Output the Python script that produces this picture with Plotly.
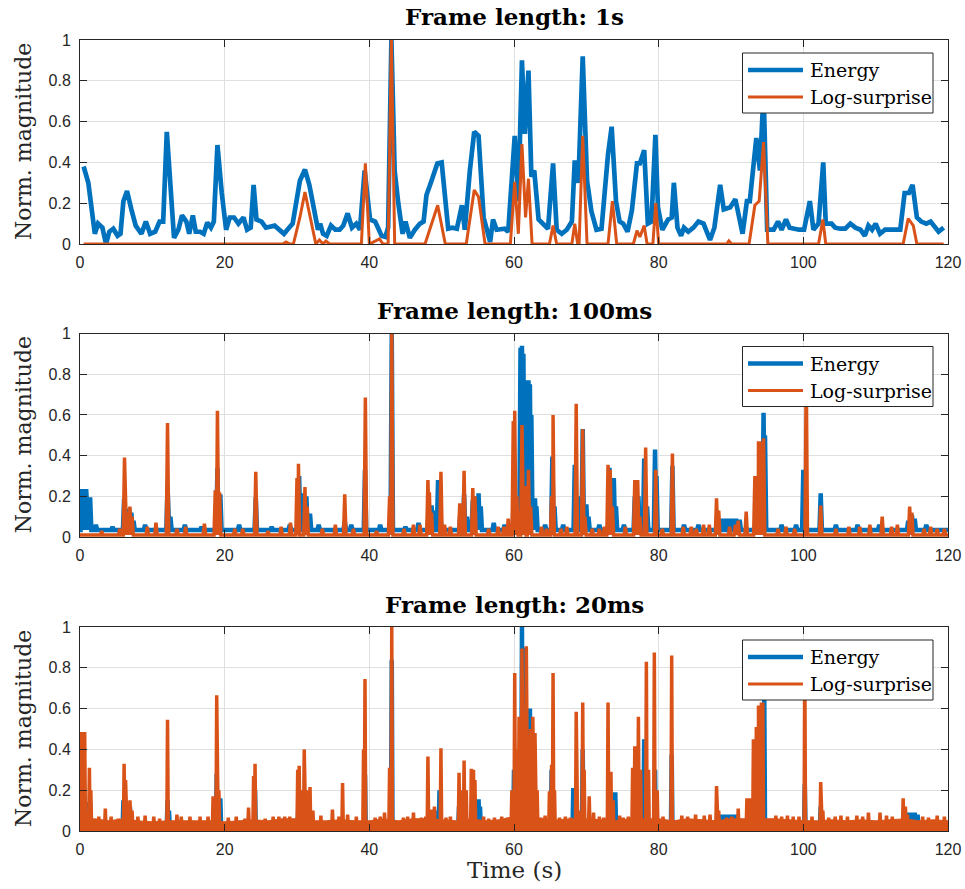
import plotly.graph_objects as go

# ---------------- data ----------------
# Frame length 1 s : energy envelope (time s, normalised value)
e1_t = [0.5, 1.15, 2.05, 2.5, 3.1, 3.6, 4.05, 4.6, 5.2, 5.6, 6.0, 6.5, 7.1, 7.7, 8.5, 9.1, 9.7, 10.4,
        11.0, 11.5, 12.0, 12.4, 13.0, 13.6, 14.1, 14.7, 15.1, 15.6, 16.0, 16.6, 17.1, 17.6, 18.1, 18.5,
        19.0, 19.6, 20.2, 20.7, 21.3, 21.9, 22.6, 23.1, 23.6, 24.0, 24.4, 25.1, 25.7, 26.9, 27.6, 28.2,
        28.9, 29.4, 30.4, 31.1, 31.7, 32.3, 32.9, 33.2, 33.6, 34.1, 34.7, 35.3, 35.9, 36.4, 37.0, 37.6,
        38.2, 38.7, 39.35, 40.1, 40.8, 41.2, 41.7, 42.2, 42.6, 43.05, 43.5, 44.0, 44.6, 45.0, 45.6, 46.3,
        47.0, 47.5, 47.9, 48.6, 49.4, 50.0, 50.5, 50.9, 51.5, 52.1, 52.8, 53.2, 53.9, 54.5, 55.1, 55.8,
        56.7, 57.1, 57.6, 58.3, 58.7, 59.2, 60.1, 60.6, 61.1, 61.5, 62.0, 62.4, 62.8, 63.4, 64.0, 64.7,
        65.4, 65.9, 66.6, 67.3, 68.0, 68.4, 68.9, 69.5, 70.1, 70.7, 71.4, 72.1, 73.0, 73.5, 74.1, 74.6,
        75.1, 75.7, 76.3, 77.0, 77.4, 78.0, 78.5, 79.0, 79.55, 79.9, 80.5, 81.3, 81.8, 82.1, 82.6, 83.1,
        83.5, 84.1, 84.8, 85.5, 86.2, 87.1, 87.7, 88.5, 89.0, 89.9, 90.6, 91.0, 91.6, 92.2, 92.6, 93.5,
        94.0, 94.5, 95.0, 95.9, 96.5, 97.0, 97.6, 98.1, 98.7, 99.4, 100.1, 100.9, 101.4, 102.1, 102.75,
        103.1, 103.9, 104.4, 105.1, 105.8, 106.5, 107.2, 107.9, 108.5, 109.0, 109.5, 110.0, 110.6, 111.3,
        112.0, 112.7, 113.4, 114.0, 114.6, 115.1, 115.7, 116.3, 117.0, 117.6, 118.2, 118.7, 119.4]
e1_v = [0.38, 0.30, 0.05, 0.10, 0.08, 0.00, 0.06, 0.075, 0.04, 0.05, 0.21, 0.26, 0.17, 0.09, 0.05, 0.11,
        0.05, 0.06, 0.11, 0.11, 0.55, 0.31, 0.03, 0.07, 0.14, 0.11, 0.05, 0.14, 0.06, 0.06, 0.05, 0.105,
        0.08, 0.11, 0.485, 0.25, 0.07, 0.13, 0.13, 0.10, 0.13, 0.07, 0.08, 0.29, 0.12, 0.11, 0.08, 0.09,
        0.07, 0.05, 0.08, 0.10, 0.31, 0.365, 0.29, 0.18, 0.07, 0.10, 0.05, 0.04, 0.09, 0.07, 0.07, 0.09,
        0.15, 0.08, 0.10, 0.07, 0.36, 0.12, 0.11, 0.08, 0.04, 0.035, 0.08, 1.0, 0.36, 0.20, 0.05, 0.11,
        0.03, 0.07, 0.10, 0.11, 0.24, 0.31, 0.395, 0.40, 0.20, 0.075, 0.08, 0.075, 0.19, 0.07, 0.36, 0.55,
        0.53, 0.13, 0.01, 0.12, 0.07, 0.07, 0.075, 0.06, 0.53, 0.21, 0.90, 0.54, 0.85, 0.33, 0.36, 0.12,
        0.10, 0.075, 0.395, 0.07, 0.05, 0.07, 0.11, 0.41, 0.30, 0.92, 0.31, 0.16, 0.07, 0.075, 0.44, 0.575,
        0.21, 0.11, 0.10, 0.06, 0.165, 0.395, 0.395, 0.46, 0.10, 0.11, 0.535, 0.18, 0.07, 0.12, 0.13, 0.30,
        0.08, 0.04, 0.08, 0.06, 0.08, 0.11, 0.10, 0.02, 0.08, 0.29, 0.17, 0.18, 0.22, 0.16, 0.05, 0.21,
        0.21, 0.52, 0.36, 0.75, 0.07, 0.07, 0.11, 0.07, 0.12, 0.08, 0.075, 0.07, 0.07, 0.21, 0.07, 0.10,
        0.40, 0.10, 0.10, 0.08, 0.075, 0.075, 0.10, 0.08, 0.07, 0.04, 0.09, 0.07, 0.10, 0.05, 0.07, 0.07,
        0.075, 0.07, 0.25, 0.25, 0.29, 0.13, 0.11, 0.10, 0.11, 0.08, 0.06, 0.08]

# Frame length 1 s : log-surprise
s1_t = [0.5, 28.0, 28.5, 29.0, 29.5, 30.4, 31.1, 31.8, 32.6, 33.1, 33.6, 34.0, 34.5, 38.9, 39.45, 40.0,
        41.4, 41.9, 42.6, 43.05, 43.5, 47.7, 49.45, 50.5, 53.4, 54.5, 55.1, 56.0, 59.5, 60.1, 60.6, 61.1,
        61.6, 62.0, 62.5, 64.9, 65.4, 65.9, 68.0, 68.4, 68.8, 69.0, 69.5, 70.1, 73.0, 73.6, 74.2, 76.5,
        77.0, 77.4, 78.0, 78.4, 79.2, 79.6, 80.0, 89.4, 89.7, 90.1, 92.5, 93.3, 93.9, 94.5, 95.1, 102.1,
        102.7, 103.1, 113.8, 114.5, 115.2, 115.7, 119.4]
s1_v = [0.0, 0.0, 0.01, 0.0, 0.0, 0.13, 0.255, 0.13, 0.0, 0.02, 0.0, 0.015, 0.0, 0.0, 0.395, 0.0,
        0.025, 0.0, 0.0, 1.0, 0.0, 0.0, 0.19, 0.0, 0.0, 0.265, 0.23, 0.0, 0.0, 0.305, 0.05, 0.49,
        0.13, 0.32, 0.0, 0.0, 0.09, 0.0, 0.0, 0.10, 0.0, 0.0, 0.53, 0.0, 0.0, 0.21, 0.0, 0.0,
        0.065, 0.035, 0.09, 0.0, 0.0, 0.20, 0.0, 0.0, 0.015, 0.0, 0.0, 0.19, 0.21, 0.50, 0.0, 0.0,
        0.12, 0.0, 0.0, 0.125, 0.09, 0.0, 0.0]

# Frame length 100 ms : resting levels and peaks
e2_base = 0.035
s2_base = 0.01
e2_pk_t = [0.25, 0.45, 0.65, 0.85, 1.0, 1.2, 1.4, 2.2, 4.5, 6.1, 6.5, 6.8, 7.1, 7.4, 9.0, 12.1, 12.5,
           14.5, 16.8, 19.0, 19.4, 22.0, 24.3, 26.5, 29.0, 30.3, 30.9, 31.3, 31.8, 33.0, 36.6, 37.5,
           39.4, 41.5, 43.1, 45.0, 46.8, 48.2, 48.6, 49.0, 49.5, 49.8, 52.6, 53.1, 53.5, 54.3, 54.7,
           55.1, 55.4, 57.2, 58.7, 60.0, 60.9, 61.1, 61.3, 61.55, 61.8, 62.0, 62.2, 62.4, 62.7, 62.9,
           63.1, 64.3, 65.3, 65.6, 66.8, 68.4, 68.8, 69.5, 70.0, 70.3, 71.8, 73.2, 73.8, 74.1, 75.2,
           76.7, 77.2, 78.0, 78.4, 79.5, 79.7, 81.9, 83.5, 85.5, 88.7, 89.2, 89.7, 90.2, 90.7, 91.2,
           93.6, 94.0, 94.5, 94.7, 97.0, 99.0, 100.0, 102.4, 104.5, 107.5, 110.5, 114.5, 115.0, 115.4,
           117.0]
e2_pk_v = [0.235, 0.235, 0.235, 0.235, 0.195, 0.195, 0.195, 0.06, 0.05, 0.19, 0.14, 0.14, 0.12, 0.08,
           0.06, 0.25, 0.10, 0.06, 0.05, 0.34, 0.21, 0.06, 0.195, 0.05, 0.06, 0.30, 0.215, 0.20, 0.115,
           0.06, 0.08, 0.06, 0.33, 0.06, 1.0, 0.05, 0.07, 0.12, 0.155, 0.13, 0.28, 0.12, 0.12, 0.21, 0.10,
           0.18, 0.20, 0.215, 0.15, 0.07, 0.06, 0.30, 0.93, 0.94, 0.90, 0.55, 0.77, 0.77, 0.75, 0.60,
           0.19, 0.19, 0.15, 0.06, 0.395, 0.15, 0.06, 0.355, 0.20, 0.53, 0.16, 0.10, 0.06, 0.34, 0.29,
           0.15, 0.06, 0.20, 0.20, 0.385, 0.15, 0.43, 0.30, 0.35, 0.06, 0.06, 0.09, 0.09, 0.09, 0.09,
           0.09, 0.085, 0.30, 0.40, 0.61, 0.50, 0.06, 0.06, 0.33, 0.215, 0.06, 0.06, 0.06, 0.08, 0.11,
           0.09, 0.06]
s2_pk_t = [3.0, 5.5, 6.15, 6.6, 6.9, 7.2, 9.3, 10.5, 12.1, 13.4, 14.6, 17.2, 18.7, 19.0, 19.3, 21.4,
           22.5, 24.3, 26.0, 27.8, 29.1, 30.0, 30.2, 31.1, 31.4, 33.5, 35.3, 36.6, 37.8, 39.45, 41.0,
           42.8, 43.1, 44.8, 46.1, 47.0, 48.1, 48.3, 48.6, 49.9, 50.4, 51.2, 52.5, 53.1, 54.3, 54.6,
           56.5, 57.8, 58.6, 59.2, 59.9, 60.1, 60.4, 61.1, 61.5, 62.0, 62.3, 63.8, 64.5, 65.2, 65.4,
           66.5, 67.3, 68.6, 69.5, 69.8, 70.8, 71.8, 72.5, 73.0, 73.3, 73.6, 75.4, 76.7, 77.1, 77.4,
           78.2, 79.6, 80.5, 81.9, 83.4, 84.5, 85.2, 86.2, 87.0, 88.0, 88.3, 89.8, 90.6, 91.0, 92.1,
           93.3, 93.6, 93.8, 94.0, 94.3, 94.5, 96.5, 97.6, 98.8, 100.4, 102.4, 104.5, 106.3, 107.8,
           109.2, 110.9, 112.2, 113.0, 114.7, 115.0, 116.7, 117.6, 118.5, 119.5]
s2_pk_v = [0.03, 0.04, 0.39, 0.12, 0.15, 0.10, 0.05, 0.07, 0.56, 0.04, 0.05, 0.065, 0.23, 0.62, 0.22,
           0.04, 0.04, 0.32, 0.03, 0.05, 0.07, 0.29, 0.36, 0.245, 0.15, 0.04, 0.06, 0.21, 0.04, 0.685,
           0.03, 0.20, 1.0, 0.04, 0.06, 0.06, 0.28, 0.22, 0.12, 0.32, 0.06, 0.05, 0.165, 0.325, 0.24,
           0.20, 0.04, 0.05, 0.05, 0.09, 0.57, 0.62, 0.20, 0.55, 0.25, 0.33, 0.15, 0.05, 0.04, 0.20,
           0.60, 0.04, 0.05, 0.655, 0.53, 0.10, 0.04, 0.04, 0.05, 0.355, 0.33, 0.15, 0.05, 0.28, 0.28,
           0.10, 0.44, 0.33, 0.04, 0.41, 0.05, 0.05, 0.04, 0.06, 0.06, 0.19, 0.13, 0.05, 0.06, 0.08,
           0.125, 0.30, 0.30, 0.47, 0.47, 0.30, 0.485, 0.04, 0.05, 0.04, 0.82, 0.155, 0.04, 0.05, 0.05,
           0.06, 0.10, 0.05, 0.06, 0.15, 0.12, 0.04, 0.05, 0.04, 0.04]

# Frame length 20 ms : resting levels, peaks and the upper edge of the dense log-surprise floor
e3_base = 0.025
s3_base = 0.02
e3_pk_t = [0.3, 0.6, 1.1, 1.4, 6.0, 6.9, 12.1, 12.3, 18.9, 19.4, 24.2, 30.2, 31.0, 39.4, 43.1, 49.3,
           49.7, 52.4, 55.1, 55.3, 60.0, 61.1, 61.3, 61.6, 62.2, 62.5, 65.2, 68.2, 69.5, 74.0, 77.0,
           78.0, 79.5, 81.8, 88.4, 88.8, 89.2, 89.6, 90.0, 90.4, 90.8, 94.6, 100.2, 102.4, 114.6,
           115.0, 115.4, 115.8]
e3_pk_v = [0.18, 0.18, 0.14, 0.14, 0.15, 0.12, 0.15, 0.10, 0.28, 0.16, 0.20, 0.15, 0.20, 0.275, 0.84,
           0.10, 0.20, 0.12, 0.155, 0.12, 0.30, 1.0, 0.90, 0.75, 0.60, 0.40, 0.30, 0.21, 0.40, 0.19,
           0.30, 0.45, 0.30, 0.375, 0.08, 0.08, 0.08, 0.08, 0.08, 0.08, 0.08, 0.66, 0.23, 0.12, 0.09,
           0.09, 0.09, 0.08]
s3_pk_t = [0.2, 0.35, 0.5, 0.65, 1.3, 1.5, 2.6, 3.5, 4.3, 5.3, 6.1, 6.3, 6.6, 6.9, 7.2, 8.0, 9.0, 10.2,
           11.0, 12.1, 13.4, 14.0, 15.2, 16.6, 17.7, 18.4, 18.9, 19.2, 20.5, 21.6, 22.8, 23.3, 24.0,
           24.2, 25.6, 26.7, 27.5, 28.3, 29.0, 30.1, 30.3, 30.7, 31.0, 31.3, 31.8, 32.2, 33.3, 34.9,
           35.8, 36.3, 37.0, 38.2, 39.2, 39.4, 40.8, 41.5, 42.1, 42.8, 43.1, 44.7, 45.3, 46.1, 47.2,
           47.8, 48.1, 48.6, 49.0, 49.9, 50.6, 51.2, 52.4, 52.6, 53.1, 53.4, 54.1, 54.4, 54.6, 55.8,
           56.5, 57.3, 58.3, 59.1, 59.7, 60.1, 60.4, 60.7, 60.9, 61.1, 61.4, 61.7, 62.0, 62.3, 62.6,
           62.9, 63.2, 63.7, 64.3, 64.9, 65.2, 65.4, 65.6, 66.3, 67.1, 67.8, 68.6, 68.9, 69.5, 69.7,
           70.4, 71.0, 71.8, 72.4, 73.0, 73.4, 73.7, 74.6, 75.1, 75.8, 76.4, 76.7, 77.2, 77.5, 78.3,
           78.6, 79.4, 79.8, 80.6, 81.8, 83.2, 84.0, 85.1, 86.3, 87.1, 88.0, 88.3, 89.4, 90.1, 91.0,
           92.2, 92.6, 93.1, 93.3, 93.5, 93.7, 93.8, 94.0, 94.2, 94.4, 96.2, 97.0, 97.8, 98.6, 99.4,
           100.2, 101.2, 102.4, 102.7, 103.5, 104.4, 105.2, 106.1, 107.4, 108.2, 109.0, 110.6, 111.5,
           112.3, 113.8, 114.1, 114.4, 116.5, 117.3, 118.5, 119.5]
s3_pk_v = [0.485, 0.485, 0.485, 0.485, 0.31, 0.20, 0.07, 0.11, 0.07, 0.06, 0.33, 0.25, 0.12, 0.15,
           0.10, 0.07, 0.075, 0.07, 0.06, 0.545, 0.08, 0.07, 0.07, 0.07, 0.07, 0.17, 0.665, 0.20, 0.065,
           0.07, 0.06, 0.115, 0.27, 0.33, 0.06, 0.07, 0.07, 0.07, 0.07, 0.30, 0.32, 0.20, 0.40, 0.20,
           0.215, 0.10, 0.075, 0.105, 0.07, 0.235, 0.08, 0.07, 0.40, 0.745, 0.065, 0.07, 0.09, 0.31,
           1.0, 0.065, 0.07, 0.09, 0.065, 0.07, 0.365, 0.105, 0.12, 0.405, 0.065, 0.07, 0.285, 0.20,
           0.345, 0.20, 0.305, 0.30, 0.25, 0.07, 0.06, 0.065, 0.07, 0.065, 0.20, 0.775, 0.40, 0.56,
           0.30, 0.895, 0.50, 0.905, 0.40, 0.50, 0.56, 0.48, 0.20, 0.065, 0.075, 0.195, 0.325, 0.775,
           0.20, 0.065, 0.07, 0.065, 0.585, 0.10, 0.63, 0.30, 0.17, 0.09, 0.07, 0.065, 0.63, 0.29,
           0.15, 0.075, 0.065, 0.07, 0.31, 0.415, 0.56, 0.30, 0.83, 0.30, 0.875, 0.20, 0.07, 0.86,
           0.075, 0.07, 0.08, 0.075, 0.08, 0.22, 0.10, 0.065, 0.07, 0.11, 0.16, 0.16, 0.45, 0.40,
           0.51, 0.50, 0.615, 0.60, 0.63, 0.63, 0.075, 0.07, 0.075, 0.07, 0.07, 0.85, 0.07, 0.24, 0.10,
           0.065, 0.07, 0.075, 0.07, 0.075, 0.07, 0.09, 0.09, 0.075, 0.07, 0.16, 0.12, 0.08, 0.07,
           0.065, 0.075, 0.07]
s3_floor_t = [0, 2, 4, 6, 8, 10, 12, 14, 16, 18, 20, 22, 24, 26, 28, 30, 32, 34, 36, 38, 40, 42, 44,
              46, 48, 50, 52, 54, 56, 58, 60, 62, 64, 66, 68, 70, 72, 74, 76, 78, 80, 82, 84, 86, 88,
              90, 92, 94, 96, 98, 100, 102, 104, 106, 108, 110, 112, 114, 116, 118, 120]
s3_floor_v = [0.05, 0.06, 0.05, 0.06, 0.05, 0.045, 0.05, 0.05, 0.05, 0.05, 0.045, 0.05, 0.055, 0.05,
              0.06, 0.06, 0.05, 0.05, 0.055, 0.05, 0.05, 0.06, 0.05, 0.06, 0.06, 0.055, 0.05, 0.06,
              0.05, 0.055, 0.07, 0.07, 0.06, 0.055, 0.06, 0.06, 0.055, 0.05, 0.06, 0.06, 0.06, 0.05,
              0.06, 0.055, 0.05, 0.06, 0.06, 0.06, 0.06, 0.055, 0.05, 0.05, 0.055, 0.05, 0.055, 0.05,
              0.055, 0.06, 0.05, 0.055, 0.05]

x_ticks = [0, 20, 40, 60, 80, 100, 120]
y_ticks = [0, 0.2, 0.4, 0.6, 0.8, 1]
y_tick_text = ["0", "0.2", "0.4", "0.6", "0.8", "1"]
panel_titles = ["Frame length: 1s", "Frame length: 100ms", "Frame length: 20ms"]
series_names = ["Energy", "Log-surprise"]

# ---------------- styling / layout ----------------
W, H = 965, 889
BLUE = "#0072BD"
ORANGE = "#D95319"
AX = "#262626"
GRID = "#dfdfdf"
SERIF = "DejaVu Serif"
SANS = "Liberation Sans"

PLOT_L, PLOT_R = 80, 948
PANELS = [(40, 244), (333.5, 537), (627, 831)]   # (top, bottom) pixel rows


def px(x):
    return x / W


def py(y):
    return 1 - y / H


def spiky(base, pk_t, pk_v, half, t0=0.0, t1=120.0):
    """Resting level with narrow peaks rising out of it."""
    xs, ys = [t0], [base]
    for t, v in sorted(zip(pk_t, pk_v)):
        left = max(t - half, xs[-1])
        xs += [left, t, t + half]
        ys += [base, v, base]
    xs.append(t1)
    ys.append(base)
    return xs, ys


fig = go.Figure()

# panel 1
fig.add_trace(go.Scatter(x=e1_t, y=e1_v, mode="lines", line=dict(color=BLUE, width=4.7),
                         xaxis="x", yaxis="y", showlegend=False))
fig.add_trace(go.Scatter(x=s1_t, y=s1_v, mode="lines", line=dict(color=ORANGE, width=3),
                         xaxis="x", yaxis="y", showlegend=False))

# panel 2
ex, ey = spiky(e2_base, e2_pk_t, e2_pk_v, 0.17)
sx, sy = spiky(s2_base, s2_pk_t, s2_pk_v, 0.17)
fig.add_trace(go.Scatter(x=ex, y=ey, mode="lines", line=dict(color=BLUE, width=4.5),
                         xaxis="x2", yaxis="y2", showlegend=False))
fig.add_trace(go.Scatter(x=sx, y=sy, mode="lines", line=dict(color=ORANGE, width=3.5),
                         xaxis="x2", yaxis="y2", showlegend=False))

# panel 3
ex, ey = spiky(e3_base, e3_pk_t, e3_pk_v, 0.1)
sx, sy = spiky(s3_base, s3_pk_t, s3_pk_v, 0.1)
fig.add_trace(go.Scatter(x=ex, y=ey, mode="lines", line=dict(color=BLUE, width=4.5),
                         xaxis="x3", yaxis="y3", showlegend=False))
fig.add_trace(go.Scatter(x=s3_floor_t, y=s3_floor_v, mode="lines", fill="tozeroy",
                         fillcolor=ORANGE, line=dict(color=ORANGE, width=1),
                         xaxis="x3", yaxis="y3", showlegend=False))
fig.add_trace(go.Scatter(x=sx, y=sy, mode="lines", line=dict(color=ORANGE, width=3.5),
                         xaxis="x3", yaxis="y3", showlegend=False))

axis_common = dict(
    showline=True, linecolor=AX, linewidth=1, mirror="ticks", automargin=False,
    ticks="inside", ticklen=7, tickwidth=1, tickcolor=AX,
    showgrid=True, gridcolor=GRID, gridwidth=1, zeroline=False,
    tickfont=dict(family=SANS, size=16, color=AX),
)

layout = dict(
    width=W, height=H, margin=dict(l=0, r=0, t=0, b=0, pad=0), autosize=False,
    paper_bgcolor="white", plot_bgcolor="white", showlegend=False,
)

shapes, annotations = [], []
for i, (top, bot) in enumerate(PANELS):
    sfx = "" if i == 0 else str(i + 1)
    layout["xaxis" + sfx] = dict(axis_common, domain=[px(PLOT_L), px(PLOT_R)], range=[0, 120],
                                 tickvals=x_ticks, anchor="y" + sfx, ticklabelstandoff=4)
    layout["yaxis" + sfx] = dict(axis_common, domain=[py(bot), py(top)], range=[0, 1],
                                 tickvals=y_ticks, ticktext=y_tick_text, anchor="x" + sfx,
                                 ticklabelstandoff=5)
    # panel title
    annotations.append(dict(text="<b>" + panel_titles[i] + "</b>", xref="paper", yref="paper",
                            x=px((PLOT_L + PLOT_R) / 2), y=py(top - 23), xanchor="center",
                            yanchor="middle", showarrow=False,
                            font=dict(family=SERIF, size=23, color="black")))
    # y-axis title
    annotations.append(dict(text="Norm. magnitude", xref="paper", yref="paper", x=px(23),
                            y=py((top + bot) / 2), xanchor="center", yanchor="middle",
                            textangle=-90, showarrow=False,
                            font=dict(family=SERIF, size=22, color=AX)))
    # legend box
    shapes.append(dict(type="rect", xref="paper", yref="paper", x0=px(742.5), x1=px(933),
                       y0=py(top + 73), y1=py(top + 13), fillcolor="white",
                       line=dict(color=AX, width=1), layer="above"))
    for j, (col, wid, dy) in enumerate([(BLUE, 4.7, 30), (ORANGE, 3, 57)]):
        shapes.append(dict(type="line", xref="paper", yref="paper", x0=px(748), x1=px(803),
                           y0=py(top + dy), y1=py(top + dy), line=dict(color=col, width=wid),
                           layer="above"))
        annotations.append(dict(text=series_names[j], xref="paper", yref="paper", x=px(808),
                                y=py(top + dy), xanchor="left", yanchor="middle",
                                showarrow=False, font=dict(family=SERIF, size=19, color="black")))

annotations.append(dict(text="Time (s)", xref="paper", yref="paper", x=px((PLOT_L + PLOT_R) / 2),
                        y=py(870), xanchor="center", yanchor="middle", showarrow=False,
                        font=dict(family=SERIF, size=23, color=AX)))

layout["shapes"] = shapes
layout["annotations"] = annotations
fig.update_layout(**layout)

fig.write_html("out.html")
